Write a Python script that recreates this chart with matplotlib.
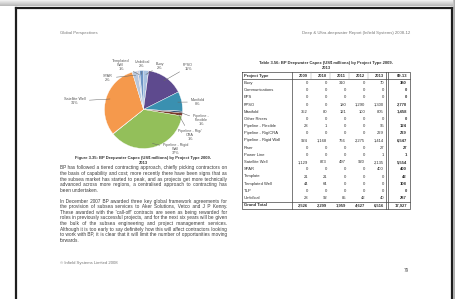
import matplotlib.pyplot as plt
import numpy as np

plt.rcParams['font.family'] = ['Liberation Sans', 'DejaVu Sans']

# Table 3.56 / Figure 3.35 data (US$ millions)
project_types = ['Buoy', 'Communications', 'EPS', 'FPSO', 'Manifold', 'Other Risers',
                 'Pipeline - Flexible', 'Pipeline - Rig/CRA', 'Pipeline - Rigid Wall', 'Riser',
                 'Power Line', 'Satellite Well', 'SPAR', 'Template', 'Templated Well', 'TLP',
                 'Umbilical']
years = ['2009', '2010', '2011', '2012', '2013']
total_label = '09-13'
capex = np.array([
    [0, 0, 310, 0, 70],
    [0, 0, 0, 0, 0],
    [0, 0, 0, 0, 0],
    [0, 0, 180, 1290, 1300],
    [352, 80, 121, 100, 805],
    [0, 0, 0, 0, 0],
    [28, 1, 0, 0, 95],
    [0, 0, 0, 0, 229],
    [924, 1168, 766, 2275, 1414],
    [0, 0, 0, 0, 27],
    [0, 0, 0, 0, 1],
    [1129, 873, 497, 920, 2135],
    [0, 0, 0, 0, 400],
    [21, 21, 0, 0, 0],
    [44, 64, 0, 0, 0],
    [0, 0, 0, 0, 0],
    [28, 92, 85, 42, 40],
])
slice_colors = ['#a9c2e0', '#c0504d', '#9bbb59', '#5e4a8e', '#3a90b0', '#f79646',
                '#2c4d75', '#7a3b2e', '#93bf5a', '#4d3b62', '#276a7c', '#f5994c',
                '#b8c7dc', '#cd7371', '#8fb0d8', '#afc97a', '#6f96c6']

# which slices carry a label, and how the label is wrapped
label_names = {
    'Buoy': 'Buoy', 'FPSO': 'FPSO', 'Manifold': 'Manifold',
    'Pipeline - Flexible': 'Pipeline -\nFlexible', 'Pipeline - Rig/CRA': 'Pipeline - Rig/\nCRA',
    'Pipeline - Rigid Wall': 'Pipeline - Rigid\nWall', 'Satellite Well': 'Satellite Well',
    'SPAR': 'SPAR', 'Templated Well': 'Templated\nWell', 'Umbilical': 'Umbilical',
}
label_pos = {
    'Buoy': (160, 66), 'FPSO': (188, 67), 'Manifold': (198, 102),
    'Pipeline - Flexible': (201, 120), 'Pipeline - Rig/CRA': (190, 135),
    'Pipeline - Rigid Wall': (176, 149), 'Satellite Well': (75, 101),
    'SPAR': (108, 78), 'Templated Well': (121, 65), 'Umbilical': (142, 64),
}

para1 = ("BP has followed a tiered contracting approach, chiefly picking contractors on the "
         "basis of capability and cost; more recently there have been signs that as the subsea "
         "market has started to peak, and as projects get more technically advanced across more "
         "regions, a centralised approach to contracting has been undertaken.")
para2 = ("In December 2007 BP awarded three key global framework agreements for the provision "
         "of subsea services to Aker Solutions, Vetco and J P Kenny. These awarded with the "
         "'call-off' contracts are seen as being rewarded for roles in previously successful "
         "projects, and for the next six years will be given the bulk of the subsea engineering "
         "and project management services. Although it is too early to say definitely how this "
         "will affect contractors looking to work with BP, it is clear that it will limit the "
         "number of opportunities moving forwards.")

W, H = 455, 299
fig = plt.figure(figsize=(W / 100, H / 100), dpi=100)
page = fig.add_axes([0, 0, 1, 1])
page.axis('off')

# shadow strips round the page
grad = np.linspace(0.95, 0.72, 20).reshape(-1, 1)
page.imshow(grad, extent=(0, W, 6, 0), cmap='gray', vmin=0, vmax=1, aspect='auto')
page.imshow(np.linspace(0.8, 0.65, 10).reshape(1, -1), extent=(453, W, H, 0),
            cmap='gray', vmin=0, vmax=1, aspect='auto')
page.set_xlim(0, W)
page.set_ylim(H, 0)
border = dict(color='#1e1e1e', lw=1.6, solid_capstyle='projecting')
page.plot([16, 16], [H, 7.5], **border)
page.plot([16, 452], [7.5, 7.5], **border)
page.plot([452, 452], [7.5, H], **border)

txt = dict(color='#3c3c3c', fontsize=3.4)
hdr = dict(color='#777777', fontsize=3.1)
page.text(60, 33, 'Global Perspectives', ha='left', va='center', **hdr)
page.text(410, 33, 'Deep & Ultra-deepwater Report (Infield Systems) 2008-12',
          ha='right', va='center', **hdr)

# pie
cx, cy, r = 143.5, 109.5, 39
ax_pie = fig.add_axes([(cx - r) / W, 1 - (cy + r) / H, 2 * r / W, 2 * r / H])
totals = capex.sum(axis=1)
wedges, _ = ax_pie.pie(totals, colors=slice_colors, startangle=90, counterclock=False,
                       radius=1, wedgeprops=dict(edgecolor='white', linewidth=0.25))
ax_pie.set_xlim(-1, 1)
ax_pie.set_ylim(-1, 1)
pct = totals / totals.sum() * 100
for i, name in enumerate(project_types):
    if name not in label_names:
        continue
    w = wedges[i]
    a = np.deg2rad((w.theta1 + w.theta2) / 2)
    ax_pie.annotate(f'{label_names[name]}\n{pct[i]:.0f}%', xy=(0.9 * np.cos(a), 0.9 * np.sin(a)),
                    xytext=label_pos[name], textcoords=page.transData, ha='center', va='center',
                    fontsize=2.7, color='#555555', linespacing=1.0, annotation_clip=False,
                    arrowprops=dict(arrowstyle='-', color='#666666', lw=0.35,
                                    shrinkA=0.5, shrinkB=0))

cap = dict(color='#333333', fontsize=3.0, fontweight='bold', ha='center', va='center')
page.text(143, 158.5, 'Figure 3.35: BP Deepwater Capex (US$ millions) by Project Type 2009-', **cap)
page.text(143, 163, '2013', **cap)

# justified paragraphs: one text per line, gaps widened with hair spaces
renderer = fig.canvas.get_renderer()
HAIR = '\u200a'


def measure(s):
    t = page.text(0, 0, s, **txt)
    wd = t.get_window_extent(renderer).width
    t.remove()
    return wd


def justify(text, x0, x1, y0, dy):
    hair_w = (measure('a' + HAIR * 20 + 'a') - measure('aa')) / 20
    lines, cur = [], []
    for wd in text.split():
        if cur and measure(' '.join(cur + [wd])) > x1 - x0:
            lines.append(cur)
            cur = [wd]
        else:
            cur = cur + [wd]
    lines.append(cur)
    for k, ln in enumerate(lines):
        s = ' '.join(ln)
        if k < len(lines) - 1 and len(ln) > 1 and hair_w > 0:
            extra = int(round((x1 - x0 - measure(s)) / hair_w))
            n_gaps = len(ln) - 1
            s = ln[0]
            for g, wd in enumerate(ln[1:]):
                n = extra * (g + 1) // n_gaps - extra * g // n_gaps
                s += ' ' + HAIR * n + wd
        page.text(x0, y0 + k * dy, s, ha='left', va='center', **txt)


justify(para1, 60, 227, 168, 5.6)
justify(para2, 60, 227, 201, 5.6)
page.text(60, 263, '\u00a9 Infield Systems Limited 2008', ha='left', va='center', **hdr)
page.text(406, 270, '79', ha='center', va='center', color='#555555', fontsize=3.3)

# table
tt = dict(color='#333333', fontsize=3.0, fontweight='bold', ha='center', va='center')
page.text(326, 63, 'Table 3.56: BP Deepwater Capex (US$ millions) by Project Type 2009-', **tt)
page.text(326, 68, '2013', **tt)
col_x = [242, 292, 311, 330, 349, 368, 387, 410]
top, row_h = 72, 7.2
n_rows = len(project_types) + 2
bottom = top + n_rows * row_h
line = dict(color='#444444', lw=0.5)
page.plot([col_x[0], col_x[-1], col_x[-1], col_x[0], col_x[0]], [top, top, bottom, bottom, top], **line)
page.plot([292, 292], [top, bottom], **line)
page.plot([386.2, 386.2], [top, bottom], **line)
page.plot([387.8, 387.8], [top, bottom], **line)
page.plot([col_x[0], col_x[-1]], [top + row_h, top + row_h], **line)
page.plot([col_x[0], col_x[-1]], [bottom - row_h, bottom - row_h], **line)
for xv in col_x[2:6]:
    page.plot([xv, xv], [top, top + row_h], color='#999999', lw=0.3)

cell = dict(color='#2e2e2e', fontsize=3.0, va='baseline')
header = ['Project Type'] + years + [total_label]
yh = top + row_h / 2 + 1.1
page.text(col_x[0] + 2, yh, header[0], ha='left', fontweight='bold', **cell)
for j, h in enumerate(header[1:]):
    page.text(col_x[j + 2] - 3, yh, h, ha='right', fontweight='bold', **cell)
for i, name in enumerate(project_types):
    yr = top + (i + 1.5) * row_h + 1.1
    page.text(col_x[0] + 2, yr, name, ha='left', **cell)
    for j, v in enumerate(capex[i]):
        page.text(col_x[j + 2] - 3, yr, f'{v:,}', ha='right', **cell)
    page.text(col_x[-1] - 3, yr, f'{totals[i]:,}', ha='right', fontweight='bold', **cell)
yg = bottom - row_h / 2 + 1.1
page.text(col_x[0] + 2, yg, 'Grand Total', ha='left', fontweight='bold', **cell)
year_totals = capex.sum(axis=0)
for j, v in enumerate(year_totals):
    page.text(col_x[j + 2] - 3, yg, f'{v:,}', ha='right', fontweight='bold', **cell)
page.text(col_x[-1] - 3, yg, f'{totals.sum():,}', ha='right', fontweight='bold', **cell)

fig.savefig('out.png', dpi=100)
